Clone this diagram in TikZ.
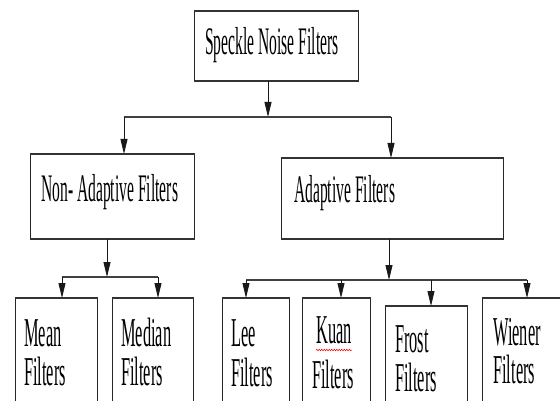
\documentclass[tikz,border=0pt]{standalone}
\usepackage{fontspec}
\newfontfamily\cond[FakeStretch=0.4]{Liberation Serif}
\usetikzlibrary{arrows.meta,decorations.pathmorphing,calc}
\begin{document}
\begin{tikzpicture}[x=1pt,y=-1pt,
  box/.style={draw=black!85, line width=0.9pt, rectangle, inner sep=0pt, anchor=north west},
  hedge/.style={line width=1.8pt, draw=black!80},
  bigtxt/.style={font=\cond\fontsize{39}{45}\selectfont, inner sep=0pt, anchor=base west},
  smalltxt/.style={font=\cond\fontsize{41}{48}\selectfont, inner sep=0pt, anchor=base west},
  arr/.style={line width=0.8pt, draw=black!90, -{Triangle[width=7pt,length=15pt]}},
  bus/.style={line width=1.8pt, draw=black!75}
]
\useasboundingbox (0,0) rectangle (560,401);
\clip (0,0) rectangle (560,401);

% boxes
\node[box, minimum width=164pt, minimum height=69pt] (top) at (194,11) {};
\node[box, minimum width=164pt, minimum height=84pt] (nonad) at (30,154) {};
\node[box, minimum width=222pt, minimum height=80pt] (adapt) at (281,158) {};
\node[box, minimum width=82pt, minimum height=130pt] (mean) at (15,298) {};
\node[box, minimum width=81pt, minimum height=130pt] (median) at (112,298) {};
\node[box, minimum width=67pt, minimum height=130pt] (lee) at (222,298) {};
\node[box, minimum width=68pt, minimum height=130pt] (kuan) at (302,298) {};
\node[box, minimum width=82pt, minimum height=130pt] (frost) at (385,306) {};
\node[box, minimum width=130pt, minimum height=130pt] (wiener) at (482,298) {};

\foreach \b in {top,nonad,adapt,mean,median,lee,kuan,frost,wiener}{
  \draw[hedge] (\b.north west) -- (\b.north east);
  \draw[hedge] (\b.south west) -- (\b.south east);
}

% texts
\node[bigtxt] (tS) at (205,55) {Speckle Noise Filters};
\node[bigtxt] (tN) at (41,201) {Non- Adaptive Filters};
\node[bigtxt] (tA) at (294,203) {Adaptive Filters};
\node[smalltxt] (mA) at (24,346) {Mean};
\node[smalltxt] (mB) at (24,385) {Filters};
\node[smalltxt] (dA) at (121,346) {Median};
\node[smalltxt] (dB) at (121,385) {Filters};
\node[smalltxt] (lA) at (231,346) {Lee};
\node[smalltxt] (lB) at (231,386) {Filters};
\node[smalltxt] (kA) at (316,343) {Kuan};
\node[smalltxt] (kB) at (312,388) {Filters};
\node[smalltxt] (fA) at (395,352) {Frost};
\node[smalltxt] (fB) at (395,391) {Filters};
\node[smalltxt] (wA) at (493,345) {Wiener};
\node[smalltxt] (wB) at (493,383) {Filters};
\draw[red, line width=0.5pt, decorate, decoration={snake, amplitude=0.8pt, segment length=2.5pt}]
  ([yshift=-7pt]kA.base west) -- ([yshift=-7pt]kA.base east);

% level 1 connectors
\coordinate (j1) at (268,117);
\coordinate (j1l) at (124,117);
\coordinate (j1r) at (391,117);
\draw[arr] (top.south -| j1) -- (j1);
\draw[bus] (j1l) -- (j1r);
\draw[arr] (j1l) -- (j1l |- nonad.north);
\draw[arr] (j1r) -- (j1r |- adapt.north);

% non-adaptive connectors
\coordinate (j2) at (107,277);
\coordinate (j2l) at (62,277);
\coordinate (j2r) at (158,277);
\draw[arr] (nonad.south -| j2) -- (j2);
\draw[bus] (j2l) -- (j2r);
\draw[arr] (j2l) -- (j2l |- mean.north);
\draw[arr] (j2r) -- (j2r |- median.north);

% adaptive connectors
\coordinate (j3) at (389,280);
\coordinate (j3a) at (246,280);
\coordinate (j3b) at (341,280);
\coordinate (j3c) at (431,280);
\coordinate (j3d) at (527,280);
\draw[arr] (adapt.south -| j3) -- (j3);
\draw[bus] (j3a) -- (j3d);
\draw[arr] (j3a) -- (j3a |- lee.north);
\draw[arr] (j3b) -- (j3b |- kuan.north);
\draw[arr] (j3c) -- (j3c |- frost.north);
\draw[arr] (j3d) -- (j3d |- wiener.north);
\end{tikzpicture}
\end{document}
